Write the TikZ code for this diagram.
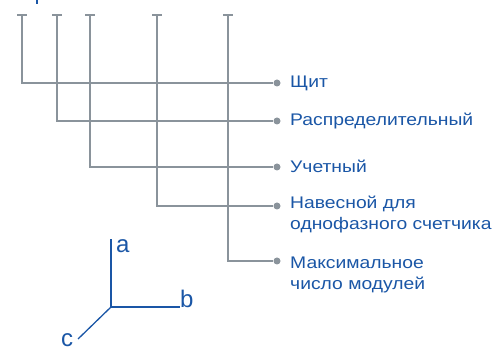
\documentclass[tikz,border=0pt]{standalone}
\usepackage{fontspec}
\setmainfont{Liberation Sans}
\newfontfamily\labfont[FakeStretch=1.15]{Liberation Sans}
\definecolor{lblue}{HTML}{1A56A6}
\definecolor{lgray}{HTML}{8A939B}
\tikzset{
  conn/.style={draw=lgray, line width=2pt},
  capbar/.style={draw=lgray, line width=2pt},
  dotnode/.style={circle, fill=lgray, inner sep=0pt, minimum size=7pt},
  lab/.style={text=lblue, font=\labfont\fontsize{16.8}{21}\selectfont, inner sep=0pt, anchor=base west, align=left},
  axis/.style={draw=lblue, line width=1.3pt},
  axlab/.style={text=lblue, font=\fontsize{24}{24}\selectfont, inner sep=0pt}
}
\begin{document}
\begin{tikzpicture}[x=1pt,y=-1pt]
\useasboundingbox (0,0) rectangle (501,347);
% clipped fragment at top
\fill[lblue] (36.3,0) rectangle (38.3,4.5);
% T-bar tops
\foreach \n/\x in {t1/22,t2/57,t3/90,t4/157,t5/228}{
  \coordinate (\n) at (\x,15);
  \draw[capbar] (\x-5,15) -- (\x+5,15);
}
% dots
\node[dotnode] (d1) at (277,83) {};
\node[dotnode] (d2) at (277,121) {};
\node[dotnode] (d3) at (277,167) {};
\node[dotnode] (d4) at (277,206) {};
\node[dotnode] (d5) at (277,261) {};
% connectors
\draw[conn] (t1) |- (d1);
\draw[conn] (t2) |- (d2);
\draw[conn] (t3) |- (d3);
\draw[conn] (t4) |- (d4);
\draw[conn] (t5) |- (d5);
% labels
\node[lab] (l1) at (290,87.5) {Щит};
\node[lab] (l2) at (290,126) {Распределительный};
\node[lab] (l3) at (290,173) {Учетный};
\node[lab] (l4) at (290,230) {Навесной для\\однофазного счетчика};
\node[lab] (l5) at (290,290) {Максимальное\\число модулей};
% axes
\coordinate (o) at (111,307);
\coordinate (ea) at (111,239);
\coordinate (eb) at (180,307);
\coordinate (ec) at (78,339);
\draw[axis] (o) -- (ea);
\draw[axis] (o) -- (eb);
\draw[axis] (o) -- (ec);
\node[axlab, anchor=base west] (a) at (116,253) {a};
\node[axlab, anchor=base west] (b) at (180,308) {b};
\node[axlab, anchor=base west] (c) at (61,346.5) {c};
\end{tikzpicture}
\end{document}
